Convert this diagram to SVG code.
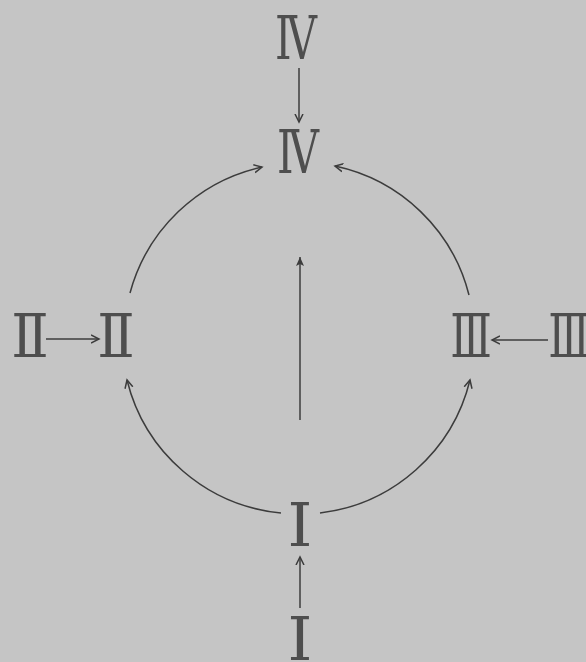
<svg xmlns="http://www.w3.org/2000/svg" width="586" height="662" viewBox="0 0 586 662">
<defs>
<style>
.num{font-family:"DejaVu Serif","Liberation Serif",serif;font-size:60px;fill:#4e4e4e;text-anchor:middle}
.c{fill:none;stroke:#3c3c3c;stroke-width:1.5}
</style>
<marker id="open" markerWidth="12" markerHeight="12" refX="8" refY="5" orient="auto" markerUnits="userSpaceOnUse" viewBox="0 0 12 10">
<path d="M0,1 L8,5 L0,9" fill="none" stroke="#3c3c3c" stroke-width="1.5"/>
</marker>
<marker id="solid" markerWidth="12" markerHeight="12" refX="9" refY="5" orient="auto" markerUnits="userSpaceOnUse" viewBox="0 0 12 10">
<path d="M0,1 L9,5 L0,9 L2,5 Z" fill="#3c3c3c"/>
</marker>
</defs>
<rect width="586" height="662" fill="#c5c5c5"/>
<g id="n-iv-top"><text class="num" transform="translate(296,59) scale(0.7,1)">Ⅳ</text></g>
<g id="n-iv"><text class="num" transform="translate(298,173) scale(0.7,1)">Ⅳ</text></g>
<g id="n-ii-left"><text class="num" transform="translate(30,357) scale(0.92,1)">Ⅱ</text></g>
<g id="n-ii"><text class="num" transform="translate(116,357) scale(0.92,1)">Ⅱ</text></g>
<g id="n-iii"><text class="num" transform="translate(471,357) scale(0.72,1)">Ⅲ</text></g>
<g id="n-iii-right"><text class="num" transform="translate(569,357) scale(0.72,1)">Ⅲ</text></g>
<g id="n-i"><text class="num" transform="translate(300,546) scale(1.05,1)">Ⅰ</text></g>
<g id="n-i-bottom"><text class="num" transform="translate(300,660) scale(1.05,1)">Ⅰ</text></g>
<g id="connectors">
<line class="c" x1="299" y1="68" x2="299" y2="122" marker-end="url(#open)"/>
<line class="c" x1="46" y1="339" x2="99" y2="339" marker-end="url(#open)"/>
<line class="c" x1="548" y1="340" x2="492" y2="340" marker-end="url(#open)"/>
<line class="c" x1="300" y1="420" x2="300" y2="257" marker-end="url(#solid)"/>
<line class="c" x1="300" y1="608" x2="300" y2="557" marker-end="url(#open)"/>
<path class="c" d="M130,293 A176,176 0 0 1 262,167" marker-end="url(#open)"/>
<path class="c" d="M469,295 A176,176 0 0 0 335,166" marker-end="url(#open)"/>
<path class="c" d="M281,513 A176,176 0 0 1 127,380" marker-end="url(#open)"/>
<path class="c" d="M320,513 A176,176 0 0 0 470,380" marker-end="url(#open)"/>
</g>
</svg>
